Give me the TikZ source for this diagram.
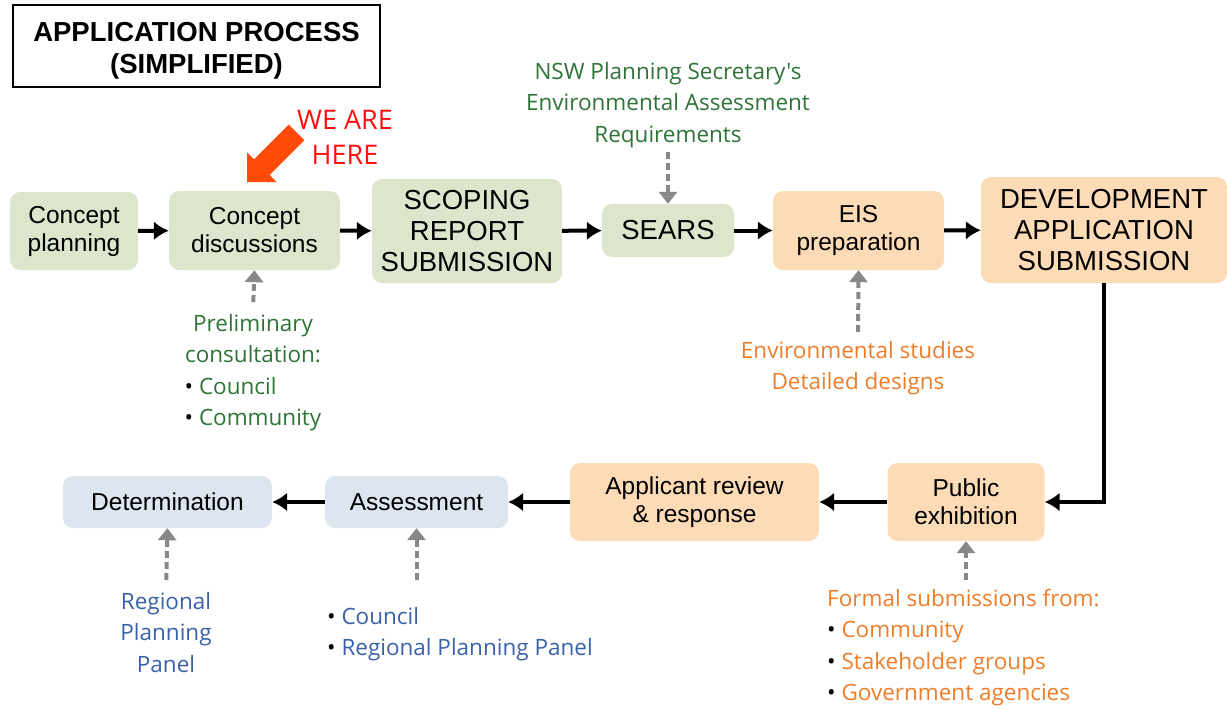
\documentclass[tikz,border=0pt]{standalone}
\usepackage{xcolor}
\usepackage{fontspec}
\setmainfont{Liberation Sans}
\newfontfamily\notefont{Open Sans}
\usepackage{tikz}
\usetikzlibrary{arrows.meta}
\usetikzlibrary{positioning,calc}

\definecolor{stagegreen}{HTML}{DDE6CD}
\definecolor{stageorange}{HTML}{FDDBB6}
\definecolor{stageblue}{HTML}{DDE5EF}
\definecolor{notegreen}{HTML}{2E7337}
\definecolor{noteorange}{HTML}{EE7D2A}
\definecolor{noteblue}{HTML}{3A62A8}
\definecolor{herered}{HTML}{FF1010}
\definecolor{hereorange}{HTML}{FF4A08}
\definecolor{feedgray}{HTML}{888888}

\tikzset{
	stage/.style={rounded corners=10pt,align=center,inner sep=0pt,
		font=\fontsize{24.5}{28}\selectfont},
	capstage/.style={stage,font=\fontsize{27.5}{31}\selectfont},
	flow/.style={line width=4pt,-{Latex[length=15pt,width=19pt]}},
	feed/.style={line width=4pt,feedgray,dash pattern=on 7pt off 4pt,
		-{Triangle[length=12pt,width=18pt]}},
	note/.style={inner sep=0pt,align=center,
		font=\notefont\fontsize{22.5}{31.5}\selectfont}
}
\newcommand{\blt}{{\color{black}\textbullet}~}

\begin{document}
\begin{tikzpicture}[x=1pt,y=-1pt]
	\useasboundingbox (0,0) rectangle (1227,709);
	% title
	\node[draw,line width=2.5pt,minimum width=367pt,minimum height=82pt,align=center,
		font=\bfseries\fontsize{27.5}{32}\selectfont] (title) at (196.5,46) {\rule{0pt}{28pt}APPLICATION PROCESS\\(SIMPLIFIED)};
	% first row
	\node[stage,fill=stagegreen,minimum width=128pt,minimum height=78pt] (plan) at (74,231) {Concept\\planning};
	\node[stage,fill=stagegreen,minimum width=171pt,minimum height=79pt] (disc) at (254.5,230.5) {Concept\\discussions};
	\node[capstage,fill=stagegreen,minimum width=190pt,minimum height=104pt] (scop) at (467,231) {SCOPING\\REPORT\\SUBMISSION};
	\node[capstage,fill=stagegreen,minimum width=132pt,minimum height=53pt] (sears) at (668,230.5) {SEARS};
	\node[stage,fill=stageorange,minimum width=171pt,minimum height=79pt] (eis) at (858.5,230.5) {EIS\\preparation};
	\node[capstage,fill=stageorange,minimum width=246pt,minimum height=106pt] (dev) at (1104,230) {DEVELOPMENT\\APPLICATION\\SUBMISSION};
	% second row
	\node[stage,fill=stageorange,minimum width=157pt,minimum height=78pt] (pub) at (966,502) {Public\\exhibition};
	\node[stage,fill=stageorange,minimum width=249pt,minimum height=78pt] (appl) at (694.5,502) {Applicant review\\\& response};
	\node[stage,fill=stageblue,minimum width=183pt,minimum height=52pt] (assess) at (416.5,502) {Assessment};
	\node[stage,fill=stageblue,minimum width=209pt,minimum height=52pt] (det) at (167.5,502) {Determination};

	\draw[flow] (plan) -- (disc);
	\draw[flow] (disc) -- (scop);
	\draw[flow] (scop) -- (sears);
	\draw[flow] (sears) -- (eis);
	\draw[flow] (eis) -- (dev);
	\draw[flow] (dev.south) -- (dev.south |- pub.east) -- (pub.east);
	\draw[flow] (pub) -- (appl);
	\draw[flow] (appl) -- (assess);
	\draw[flow] (assess) -- (det);

	% notes
	\node[note,text=notegreen,anchor=north] (searsnote) at (668,62) {NSW Planning Secretary's\\Environmental Assessment\\Requirements};
	\node[note,text=notegreen,anchor=north] (discnote) at (253,309) {\begin{tabular}{@{}l@{}}
		\multicolumn{1}{@{}c@{}}{Preliminary}\\ \multicolumn{1}{@{}c@{}}{consultation:}\\ \blt Council\\ \blt Community\end{tabular}};
	\node[note,text=noteorange,anchor=north] (eisnote) at (858,341) {Environmental studies\\Detailed designs};
	\node[note,text=noteorange,anchor=north west,align=left] (pubnote) at (827,589) {Formal submissions from:\\\blt Community\\\blt Stakeholder groups\\\blt Government agencies};
	\node[note,text=noteblue,anchor=north west,align=left] (assessnote) at (327,607) {\blt Council\\\blt Regional Planning Panel};
	\node[note,text=noteblue,anchor=north] (detnote) at (166,592) {Regional\\Planning\\Panel};

	\draw[feed,shorten <=4pt] (searsnote.south) -- (sears.north);
	\draw[feed,shorten <=7pt] (discnote.north) -- (disc.south);
	\draw[feed,shorten <=9pt] (eisnote.north) -- (eis.south);
	\draw[feed,shorten <=9pt] (pubnote.north -| pub.south) -- (pub.south);
	\draw[feed,shorten <=27pt] (assessnote.north -| assess.south) -- (assess.south);
	\draw[feed,shorten <=12pt] (detnote.north) -- (det.south);

	% we are here
	\node[inner sep=0pt,align=center,text=herered,font=\notefont\fontsize{27}{35}\selectfont] (here) at (345,137) {WE ARE\\HERE};
	\fill[hereorange] (247,182) -- (276.6,182) -- (269.6,175) -- (304.3,140.3) -- (288.7,124.7)
		-- (254,159.4) -- (247,152.3) -- cycle;
\end{tikzpicture}
\end{document}
